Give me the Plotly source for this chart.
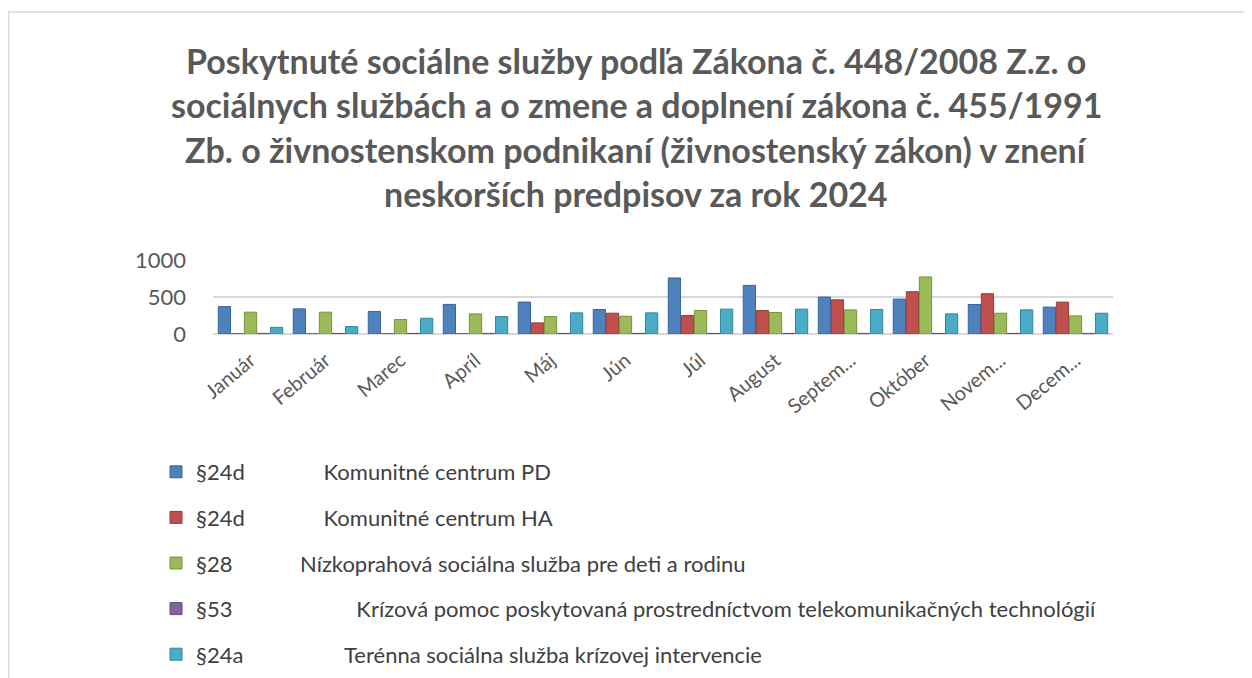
import plotly.graph_objects as go

months = ["Január", "Február", "Marec", "Apríl", "Máj", "Jún", "Júl", "August",
          "Septem...", "Október", "Novem...", "Decem..."]

codes = ["§24d", "§24d", "§28", "§53", "§24a"]
names = ["Komunitné centrum PD", "Komunitné centrum HA",
         "Nízkoprahová sociálna služba pre deti a rodinu",
         "Krízová pomoc poskytovaná prostredníctvom telekomunikačných technológií",
         "Terénna sociálna služba krízovej intervencie"]
name_pad = [14, 14, 12, 22, 18]

kc_pd = [370, 340, 305, 400, 432, 331, 757, 657, 499, 472, 399, 363]
kc_ha = [2, 2, 2, 2, 150, 281, 250, 317, 462, 571, 544, 431]
nizko = [295, 295, 195, 272, 236, 240, 318, 290, 326, 771, 281, 245]
kriz_tel = [8, 8, 8, 8, 8, 8, 8, 8, 8, 8, 8, 8]
teren = [90, 100, 213, 236, 286, 286, 336, 336, 331, 272, 326, 281]

series = [kc_pd, kc_ha, nizko, kriz_tel, teren]
colors = ["#4F81BD", "#C0504D", "#9BBB59", "#8064A2", "#4BACC6"]
edges = ["#3A6596", "#963C3A", "#78923F", "#5F4A7A", "#31859C"]

title_lines = [
    "Poskytnuté sociálne služby podľa Zákona č. 448/2008 Z.z. o",
    "sociálnych službách a o zmene a doplnení zákona č. 455/1991",
    "Zb. o živnostenskom podnikaní (živnostenský zákon) v znení",
    "neskorších predpisov za rok 2024",
]

W, H = 1244, 670
L, T = 205, 252
PW, PH = 900, 74
R, B = W - L - PW, H - T - PH

def px(x):
    return (x - L) / PW

def py(y):
    return (T + PH - y) / PH

fig = go.Figure()
for i, (vals, col, ec) in enumerate(zip(series, colors, edges)):
    label = codes[i] + "\u00a0" * name_pad[i] + names[i]
    fig.add_trace(go.Bar(
        x=months, y=vals, name=label, legendgroup=f"g{i}",
        marker=dict(color=col, line=dict(color=ec, width=1)),
    ))

annotations = []
centers = [52, 96, 141, 185]
for k, line in enumerate(title_lines):
    annotations.append(dict(
        text="<b>" + line + "</b>", x=px(628), y=py(centers[k]),
        xref="paper", yref="paper", showarrow=False,
        xanchor="center", yanchor="middle",
        font=dict(family="Lato", size=34, color="#595959"),
    ))

fig.update_layout(
    width=W, height=H,
    margin=dict(l=L, r=R, t=T, b=B, autoexpand=False),
    paper_bgcolor="white", plot_bgcolor="white",
    barmode="group", bargap=0.13, bargroupgap=0.06,
    font=dict(family="Lato", color="#595959"),
    annotations=annotations,
    showlegend=True,
    legend=dict(
        x=px(148), y=py(443), xanchor="left", yanchor="top",
        font=dict(family="Lato", size=22, color="#404040"),
        tracegroupgap=14, itemwidth=30,
        bgcolor="rgba(0,0,0,0)",
    ),
    shapes=[dict(
        type="rect", xref="paper", yref="paper",
        x0=px(0.5), x1=px(1250), y0=py(700), y1=py(4),
        line=dict(color="#D9D9D9", width=1.5), fillcolor="rgba(0,0,0,0)",
        layer="below",
    )],
)
fig.update_xaxes(
    tickangle=-40, tickfont=dict(family="Lato", size=20, color="#595959"),
    showgrid=False, showline=False, ticks="", ticklabelstandoff=10,
)
fig.update_yaxes(
    range=[0, 1000], tickvals=[0, 500, 1000],
    tickfont=dict(family="Lato", size=22, color="#595959"),
    showgrid=True, gridcolor="#D9D9D9", gridwidth=2,
    zeroline=True, zerolinecolor="#D9D9D9", zerolinewidth=2,
    ticks="", ticklabelstandoff=26,
)

fig.write_html("out.html")
